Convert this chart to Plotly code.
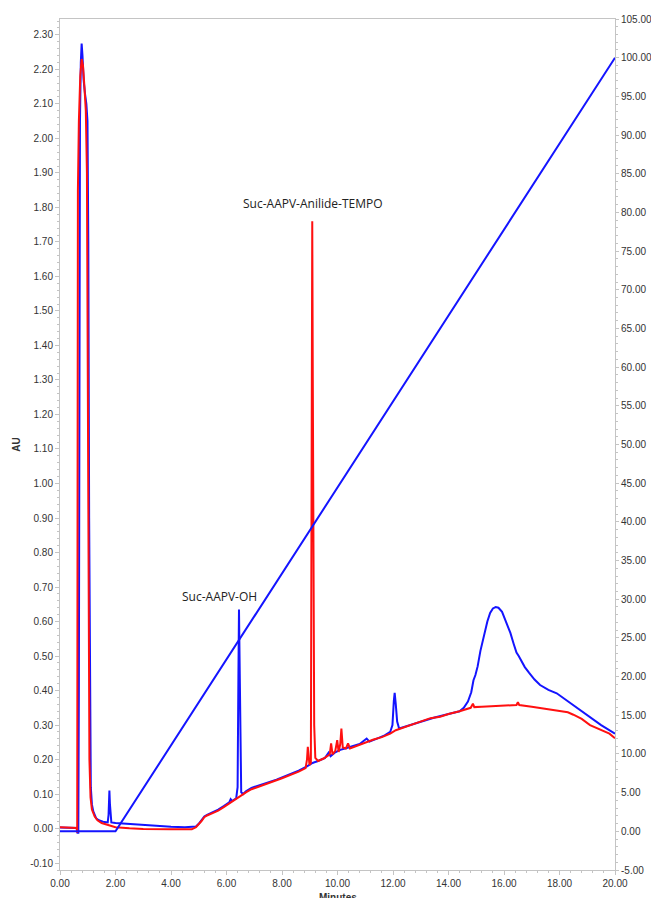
import plotly.graph_objects as go

# Chromatogram, channel 1 (blue) – retention time (min) and absorbance (AU)
blue_t = [0.00, 0.50, 0.60, 0.63, 0.66, 0.68, 0.70, 0.72, 0.75, 0.78, 0.81, 0.85, 0.90, 0.95, 0.99,
          1.02, 1.05, 1.08, 1.11, 1.15, 1.20, 1.30, 1.40, 1.55, 1.72, 1.75, 1.78, 1.80, 1.82, 1.85,
          2.00, 2.50, 3.00, 3.50, 4.00, 4.50, 4.80, 4.90, 5.00, 5.10, 5.20, 5.30, 5.50, 5.70, 5.90,
          6.10, 6.15, 6.20, 6.35, 6.40, 6.43, 6.45, 6.47, 6.50, 6.53, 6.60, 6.70, 6.90, 7.20, 7.50,
          7.80, 8.00, 8.30, 8.60, 8.90, 9.10, 9.30, 9.55, 9.68, 9.75, 9.90, 10.10, 10.30, 10.50,
          10.80, 11.05, 11.15, 11.40, 11.70, 11.90, 11.98, 12.03, 12.06, 12.10, 12.15, 12.22,
          12.50, 13.00, 13.50, 14.00, 14.40, 14.55, 14.70, 14.82, 14.90, 14.97, 15.05, 15.15,
          15.27, 15.40, 15.50, 15.60, 15.70, 15.80, 15.93, 16.05, 16.15, 16.23, 16.35, 16.45,
          16.53, 16.62, 16.75, 16.90, 17.10, 17.30, 17.60, 17.90, 18.20, 18.50, 18.80, 19.10,
          19.50, 20.00]
blue_au = [0.003, 0.003, 0.002, -0.012, -0.012, 0.40, 1.50, 2.05, 2.22, 2.275, 2.24, 2.17, 2.13, 2.10, 2.05,
           1.70, 0.90, 0.30, 0.12, 0.07, 0.05, 0.03, 0.024, 0.020, 0.018, 0.04, 0.11, 0.07, 0.03, 0.018,
           0.016, 0.013, 0.010, 0.007, 0.005, 0.004, 0.004, 0.006, 0.014, 0.025, 0.035, 0.040, 0.047, 0.055, 0.065,
           0.076, 0.085, 0.080, 0.088, 0.12, 0.45, 0.635, 0.50, 0.20, 0.105, 0.100, 0.108, 0.118, 0.125, 0.134,
           0.142, 0.148, 0.158, 0.168, 0.180, 0.190, 0.196, 0.205, 0.220, 0.210, 0.220, 0.228, 0.233, 0.238,
           0.245, 0.261, 0.252, 0.260, 0.270, 0.280, 0.300, 0.370, 0.393, 0.360, 0.310, 0.290,
           0.297, 0.310, 0.322, 0.332, 0.340, 0.350, 0.368, 0.395, 0.430, 0.445, 0.470, 0.515,
           0.556, 0.600, 0.625, 0.638, 0.642, 0.640, 0.628, 0.605, 0.585, 0.567, 0.535, 0.510,
           0.500, 0.485, 0.468, 0.452, 0.432, 0.416, 0.402, 0.392, 0.375, 0.358, 0.341, 0.324,
           0.300, 0.275]

# Chromatogram, channel 2 (red)
red_t = [0.00, 0.55, 0.60, 0.62, 0.63, 0.645, 0.68, 0.73, 0.78, 0.83, 0.88, 0.93, 0.97, 1.00, 1.03,
         1.06, 1.10, 1.15, 1.25, 1.35, 1.50, 1.75, 2.00, 2.50, 3.00, 4.00, 4.75, 4.90, 5.00, 5.10,
         5.20, 5.30, 5.50, 5.70, 5.90, 6.10, 6.30, 6.50, 6.70, 6.90, 7.20, 7.50, 7.80, 8.00, 8.30,
         8.60, 8.85, 8.90, 8.93, 8.96, 8.99, 9.04, 9.07, 9.09, 9.11, 9.13, 9.16, 9.20, 9.30, 9.50,
         9.65, 9.72, 9.77, 9.82, 9.92, 9.99, 10.04, 10.10, 10.14, 10.19, 10.30, 10.38, 10.45, 10.70,
         11.00, 11.30, 11.60, 11.90, 12.10, 12.40, 12.70, 13.00, 13.35, 13.70, 14.00, 14.40, 14.80,
         14.88, 14.93, 15.20, 15.75, 16.20, 16.45, 16.50, 16.55, 17.00, 17.30, 17.60, 18.00, 18.30,
         18.50, 18.80, 19.10, 19.50, 19.80, 20.00]
red_au = [0.004, 0.003, 0.002, -0.012, 0.80, 1.85, 2.05, 2.18, 2.23, 2.21, 2.15, 2.08, 1.90, 1.40, 0.60,
          0.20, 0.09, 0.055, 0.035, 0.024, 0.016, 0.009, 0.004, 0.001, -0.001, -0.002, -0.002, 0.004, 0.012, 0.022,
          0.033, 0.038, 0.045, 0.052, 0.062, 0.073, 0.082, 0.095, 0.105, 0.114, 0.122, 0.131, 0.140, 0.146, 0.155,
          0.165, 0.175, 0.200, 0.237, 0.200, 0.185, 0.190, 0.90, 1.76, 1.30, 0.60, 0.30, 0.205, 0.196, 0.203,
          0.210, 0.215, 0.247, 0.215, 0.225, 0.256, 0.222, 0.245, 0.290, 0.235, 0.232, 0.247, 0.232, 0.240,
          0.250, 0.258, 0.265, 0.275, 0.285, 0.293, 0.302, 0.310, 0.320, 0.324, 0.332, 0.340, 0.350,
          0.362, 0.352, 0.353, 0.355, 0.357, 0.358, 0.366, 0.358, 0.353, 0.349, 0.345, 0.340, 0.337,
          0.330, 0.318, 0.300, 0.287, 0.275, 0.262]

# Solvent gradient (% B) on the right-hand axis
grad_t = [0.0, 2.0, 20.0]
grad_pct = [0.0, 0.0, 100.0]

# Axis ticks
x_ticks = [0, 2, 4, 6, 8, 10, 12, 14, 16, 18, 20]
au_ticks = [round(-0.1 + 0.1 * i, 2) for i in range(25)]
pct_ticks = [-5 + 5 * i for i in range(23)]

# Peak labels
peak_labels = ["Suc-AAPV-OH", "Suc-AAPV-Anilide-TEMPO"]
peak_label_t = [5.75, 9.10]
peak_label_au = [0.672, 1.81]

BLUE = "#1414ff"
RED = "#ff1010"
AXIS = "#c4c4c4"
TXT = "#333333"
tick_font = dict(family="Liberation Sans, Arial, sans-serif", size=10, color=TXT)
title_font = dict(family="Liberation Sans, Arial, sans-serif", size=10, color=TXT)

fig = go.Figure()
fig.add_trace(go.Scatter(x=grad_t, y=grad_pct, mode="lines", yaxis="y2",
                         line=dict(color=BLUE, width=2), showlegend=False, hoverinfo="skip"))
fig.add_trace(go.Scatter(x=blue_t, y=blue_au, mode="lines",
                         line=dict(color=BLUE, width=2), showlegend=False))
fig.add_trace(go.Scatter(x=red_t, y=red_au, mode="lines",
                         line=dict(color=RED, width=2), showlegend=False))

for txt, tx, ty in zip(peak_labels, peak_label_t, peak_label_au):
    fig.add_annotation(x=tx, y=ty, xref="x", yref="y", text=txt, showarrow=False,
                       font=dict(family="Open Sans, sans-serif", size=12, color="#222222"))

# x-axis title sits low, partly below the page edge
fig.add_annotation(x=0.5, y=-0.0325, xref="paper", yref="paper", text="<b>Minutes</b>",
                   showarrow=False, yanchor="middle", font=title_font)

fig.update_layout(
    width=651, height=898,
    margin=dict(l=60, r=36, t=19, b=28),
    plot_bgcolor="white", paper_bgcolor="white",
    xaxis=dict(range=[0, 20], tickvals=x_ticks, ticktext=[f"{v:.2f}" for v in x_ticks],
               showline=True, linecolor=AXIS, linewidth=1, mirror=True,
               ticks="outside", ticklen=4, tickcolor=AXIS, tickfont=tick_font,
               showgrid=False, zeroline=False, automargin=False,
               minor=dict(dtick=0.4, ticks="outside", ticklen=2, tickcolor=AXIS)),
    yaxis=dict(range=[-0.12, 2.346], tickvals=au_ticks, ticktext=[f"{v:.2f}" for v in au_ticks],
               showline=True, linecolor=AXIS, linewidth=1,
               ticks="outside", ticklen=4, tickcolor=AXIS, tickfont=tick_font,
               showgrid=False, zeroline=False, automargin=False,
               minor=dict(dtick=0.02, ticks="outside", ticklen=2, tickcolor=AXIS),
               title=dict(text="<b>AU</b>", standoff=7, font=title_font)),
    yaxis2=dict(range=[-5, 105], overlaying="y", side="right",
                tickvals=pct_ticks, ticktext=[f"{v:.2f}" for v in pct_ticks],
                showline=True, linecolor=AXIS, linewidth=1,
                ticks="outside", ticklen=3, tickcolor=AXIS, tickfont=tick_font,
                showgrid=False, zeroline=False, automargin=False,
                minor=dict(dtick=1, ticks="outside", ticklen=2, tickcolor=AXIS)),
)

fig.write_html("out.html")
